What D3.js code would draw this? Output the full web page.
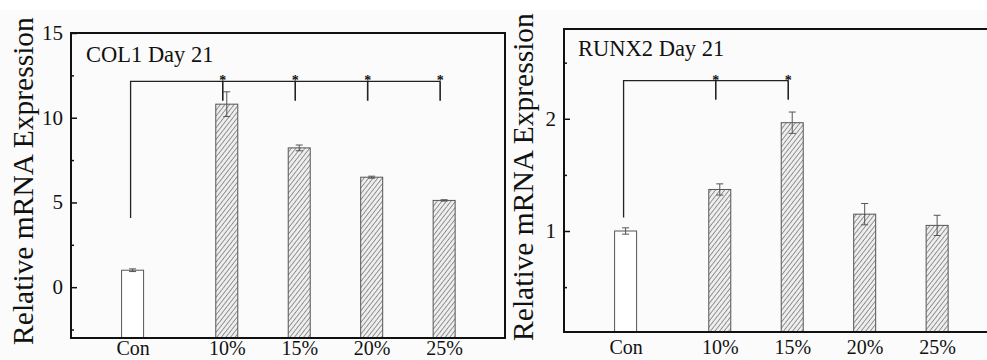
<!DOCTYPE html>
<html><head><meta charset="utf-8">
<script src="https://cdn.jsdelivr.net/npm/d3@7"></script>
<style>body{margin:0;background:#fbfbfb;} svg{display:block;}</style>
</head><body><div id="chart"></div>
<script>
const categories = ["Con", "10%", "15%", "20%", "25%"];
const positions = [0, 1.3, 2.3, 3.3, 4.3];
const col1Values = [1.0, 10.8, 8.22, 6.49, 5.12];
const col1Errors = [0.08, 0.73, 0.17, 0.06, 0.04];
const runx2Values = [1.0, 1.37, 1.965, 1.15, 1.05];
const runx2Errors = [0.028, 0.05, 0.095, 0.095, 0.09];
const col1Ticks = [0, 5, 10, 15];
const col1Minor = [-2.5, 2.5, 7.5, 12.5];
const runx2Ticks = [1, 2];
const runx2Minor = [0.5, 1.5, 2.5];
const col1Sig = [1, 2, 3, 4];
const runx2Sig = [1, 2];

const W = 987, H = 360;
const svg = d3.select("#chart").append("svg").attr("width", W).attr("height", H);
svg.append("rect").attr("width", W).attr("height", H).attr("fill", "#fbfbfb");
svg.append("rect").attr("width", W).attr("height", 10).attr("fill", "#ffffff");

const defs = svg.append("defs");
const pat = defs.append("pattern").attr("id", "hatch").attr("patternUnits", "userSpaceOnUse")
  .attr("width", 3.6).attr("height", 4).attr("patternTransform", "rotate(38)");
pat.append("rect").attr("width", 3.6).attr("height", 4).attr("fill", "#eeeeee");
pat.append("line").attr("x1", 0).attr("y1", 0).attr("x2", 0).attr("y2", 4)
  .attr("stroke", "#4a4a4a").attr("stroke-width", 1.1);

const FONT = "'Liberation Serif','Times New Roman',serif";

function panel(cfg) {
  const x = d3.scaleLinear().domain([-0.85, 5.14]).range([cfg.left, cfg.left + 434]);
  const y = d3.scaleLinear().domain(cfg.yDomain).range([cfg.bottom, cfg.top]);
  const g = svg.append("g");
  const bw = 22;

  categories.forEach((c, i) => {
    const v = cfg.values[i];
    g.append("rect").attr("x", x(positions[i]) - bw / 2).attr("y", y(v))
      .attr("width", bw).attr("height", y(cfg.yDomain[0]) - y(v))
      .attr("fill", i === 0 ? "#ffffff" : "url(#hatch)")
      .attr("stroke", "#555").attr("stroke-width", 1);
    const e = cfg.errors[i];
    const cx = x(positions[i]);
    g.append("line").attr("x1", cx).attr("x2", cx).attr("y1", y(v - e)).attr("y2", y(v + e))
      .attr("stroke", "#555").attr("stroke-width", 1);
    [v - e, v + e].forEach(t => {
      g.append("line").attr("x1", cx - 3.5).attr("x2", cx + 3.5).attr("y1", y(t)).attr("y2", y(t))
        .attr("stroke", "#555").attr("stroke-width", 1);
    });
  });

  const conX = x(positions[0]) - 2;
  const lastX = x(positions[cfg.sig[cfg.sig.length - 1]]) - 4;
  const br = g.append("g").attr("stroke", "#222").attr("stroke-width", 1.3).attr("fill", "none");
  br.append("path").attr("d", `M${conX},${y(cfg.conBottom)}V${y(cfg.bracketTop)}H${lastX}`);
  cfg.sig.forEach(i => {
    const sx = x(positions[i]) - 4;
    br.append("line").attr("x1", sx).attr("x2", sx).attr("y1", y(cfg.bracketTop)).attr("y2", y(cfg.tickBottom))
      .attr("stroke-width", 1.6);
    g.append("text").attr("x", sx).attr("y", y(cfg.bracketTop) + 4).attr("text-anchor", "middle")
      .attr("font-family", FONT).attr("font-size", 14).attr("font-weight", "bold").attr("fill", "#111").text("*");
  });

  g.append("rect").attr("x", cfg.left).attr("y", cfg.top).attr("width", 434).attr("height", cfg.bottom - cfg.top)
    .attr("fill", "none").attr("stroke", "#111").attr("stroke-width", 2);

  const yAxis = d3.axisRight(y).tickValues(cfg.ticks).tickSize(6).tickFormat("");
  const ya = g.append("g").attr("transform", `translate(${cfg.left},0)`).call(yAxis);
  ya.select(".domain").remove();
  ya.selectAll("line").attr("stroke", "#111").attr("stroke-width", 1.5);
  const yMinor = d3.axisRight(y).tickValues(cfg.minor).tickSize(3).tickFormat("");
  const ym = g.append("g").attr("transform", `translate(${cfg.left},0)`).call(yMinor);
  ym.select(".domain").remove();
  ym.selectAll("line").attr("stroke", "#111").attr("stroke-width", 1.5);
  cfg.ticks.forEach(t => {
    g.append("text").attr("x", cfg.left - 8).attr("y", y(t) + 7).attr("text-anchor", "end")
      .attr("font-family", FONT).attr("font-size", 21).attr("fill", "#111").text(t);
  });

  const xAxis = d3.axisBottom(x).tickValues(positions).tickSize(0).tickFormat((d, i) => categories[i]);
  const xa = g.append("g").attr("transform", `translate(0,${cfg.xLabelY})`).call(xAxis);
  xa.select(".domain").remove();
  xa.selectAll("text").attr("font-family", FONT).attr("font-size", 20).attr("fill", "#111")
    .attr("dy", 0).attr("y", 0);

  g.append("text").attr("x", cfg.titleX).attr("y", cfg.titleY).attr("font-family", FONT)
    .attr("font-size", 22.5).attr("fill", "#111").text(cfg.title);

  g.append("text").attr("transform", `translate(${cfg.ylabX},${cfg.ylabY}) rotate(-90)`)
    .attr("text-anchor", "middle").attr("font-family", FONT).attr("font-size", 29.5).attr("fill", "#111")
    .text("Relative mRNA Expression");
}

panel({ left: 71, top: 33, bottom: 338, yDomain: [-3, 15], values: col1Values, errors: col1Errors,
  ticks: col1Ticks, minor: col1Minor, sig: col1Sig, bracketTop: 12.15, conBottom: 4.08, tickBottom: 11.0,
  xLabelY: 355, title: "COL1 Day 21", titleX: 86, titleY: 62, ylabX: 33, ylabY: 181 });
panel({ left: 564, top: 29, bottom: 332, yDomain: [0.1, 2.8], values: runx2Values, errors: runx2Errors,
  ticks: runx2Ticks, minor: runx2Minor, sig: runx2Sig, bracketTop: 2.34, conBottom: 1.12, tickBottom: 2.17,
  xLabelY: 354, title: "RUNX2 Day 21", titleX: 578, titleY: 56, ylabX: 533, ylabY: 177 });
</script></body></html>
